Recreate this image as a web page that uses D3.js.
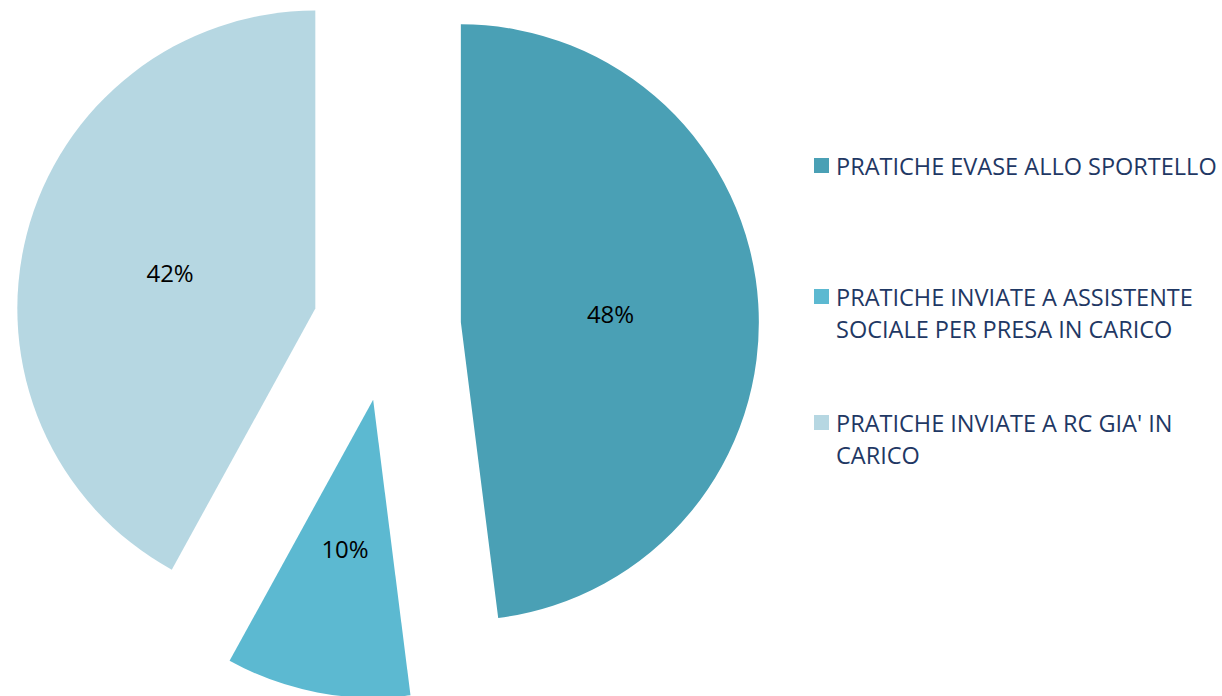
<!DOCTYPE html>
<html>
<head>
<meta charset="utf-8">
<script src="https://cdn.jsdelivr.net/npm/d3@7"></script>
<style>
html,body{margin:0;padding:0;background:#fff;}
svg{display:block;}
</style>
</head>
<body>
<svg id="chart" width="1222" height="696"></svg>
<script>
const categories = ["PRATICHE EVASE ALLO SPORTELLO", "PRATICHE INVIATE A ASSISTENTE SOCIALE PER PRESA IN CARICO", "PRATICHE INVIATE A RC GIA' IN CARICO"];
const legendLines = [["PRATICHE EVASE ALLO SPORTELLO"], ["PRATICHE INVIATE A ASSISTENTE", "SOCIALE PER PRESA IN CARICO"], ["PRATICHE INVIATE A RC GIA' IN", "CARICO"]];
const values = [48, 10, 42];
const labels = ["48%", "10%", "42%"];
const colors = ["#4aa0b5", "#5cb9d1", "#b6d7e2"];

const svg = d3.select("#chart");
const cx = 387, cy = 327, r = 298, explode = 74;

const pie = d3.pie().sort(null).value(d => d)(values);
const arc = d3.arc().innerRadius(0).outerRadius(r);

const g = svg.append("g").attr("transform", `translate(${cx},${cy})`);
pie.forEach((p, i) => {
  const mid = (p.startAngle + p.endAngle) / 2;
  const dx = explode * Math.sin(mid), dy = -explode * Math.cos(mid);
  const sg = g.append("g").attr("transform", `translate(${dx},${dy})`);
  sg.append("path").attr("d", arc(p)).attr("fill", colors[i]);
  const lr = 150;
  sg.append("text")
    .attr("x", lr * Math.sin(mid))
    .attr("y", -lr * Math.cos(mid) + 10.5)
    .attr("text-anchor", "middle")
    .attr("font-family", "'Open Sans', sans-serif")
    .attr("font-size", 24)
    .attr("fill", "#000")
    .text(labels[i]);
});

const legY = [166, 297, 423];
const lg = svg.append("g");
legendLines.forEach((lines, i) => {
  lg.append("rect").attr("x", 814).attr("y", legY[i] - 8).attr("width", 15).attr("height", 15).attr("fill", colors[i]);
  lines.forEach((t, j) => {
    lg.append("text")
      .attr("x", 836)
      .attr("y", legY[i] + j * 32 + 8.5)
      .attr("font-family", "'Open Sans', sans-serif")
      .attr("font-size", 23.5)
      .attr("fill", "#1f3864")
      .text(t);
  });
});
</script>
</body>
</html>
